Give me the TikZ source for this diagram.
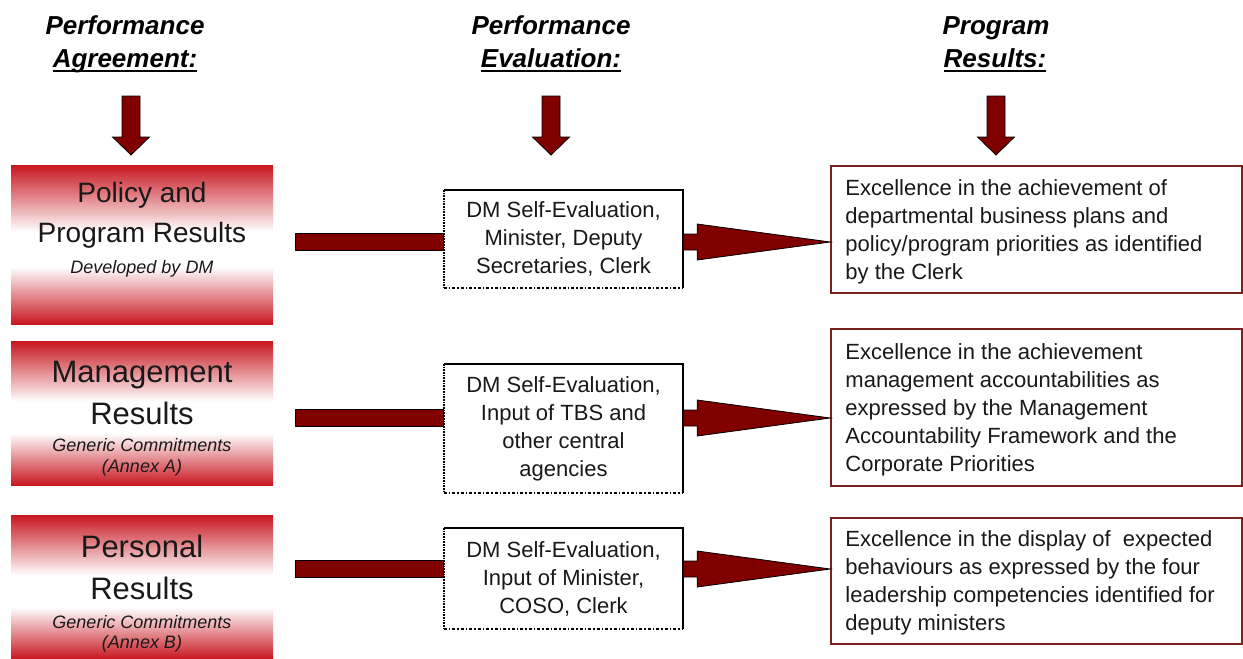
\documentclass[tikz,border=0pt]{standalone}
\usepackage{fontspec}
\setmainfont{Liberation Sans}
\usetikzlibrary{calc}
\definecolor{boxred}{RGB}{200,22,32}
\definecolor{arrred}{RGB}{128,0,0}
\definecolor{rborder}{RGB}{125,32,32}
\definecolor{txt}{RGB}{25,25,25}
\pgfdeclareverticalshading{redband}{100bp}{color(0bp)=(boxred); color(25bp)=(boxred); color(43bp)=(white); color(54bp)=(white); color(75bp)=(boxred); color(100bp)=(boxred)}
\tikzset{
  downarr/.pic={\draw[arrowfill] (-9,0) -- (9,0) -- (9,41) -- (18.5,41) -- (0,59) -- (-18.5,41) -- (-9,41) -- cycle;},
  arrowfill/.style={fill=arrred, draw=black, line width=0.8pt, line join=miter},
  lbox/.style={shading=redband, inner sep=0pt, minimum width=262pt},
  mbox/.style={fill=white, inner sep=0pt, minimum width=239pt, align=center, text=txt, font=\fontsize{22}{28}\selectfont},
  rbox/.style={draw=rborder, line width=1.5pt, fill=white, inner sep=0pt, minimum width=411pt},
  rtext/.style={anchor=north west, inner sep=0pt, align=left, text=txt, font=\fontsize{22}{28}\selectfont},
  bigA/.style={anchor=base, inner sep=0pt, text=txt, font=\fontsize{28}{28}\selectfont},
  bigB/.style={anchor=base, inner sep=0pt, text=txt, font=\fontsize{31}{31}\selectfont},
  smalltxt/.style={anchor=base, inner sep=0pt, text=txt, font=\fontsize{18}{18}\selectfont\itshape},
  headtxt/.style={anchor=base, inner sep=0pt, text=black, font=\fontsize{26}{26}\selectfont\bfseries\itshape},
  uline/.style={line width=1.8pt, black},
}
\begin{document}
\begin{tikzpicture}[x=1pt,y=-1pt]
\useasboundingbox[fill=white] (0,0) rectangle (1243,659);

% headers
\node[headtxt] (h1a) at (125,34) {Performance};
\node[headtxt] (h1b) at (125,67) {Agreement:};
\node[headtxt] (h2a) at (551,34) {Performance};
\node[headtxt] (h2b) at (551,67) {Evaluation:};
\node[headtxt] (h3a) at (996,34) {Program};
\node[headtxt] (h3b) at (995,67) {Results:};
\draw[uline] ([yshift=-4pt]h1b.base west) -- ([yshift=-4pt]h1b.base east);
\draw[uline] ([yshift=-4pt]h2b.base west) -- ([yshift=-4pt]h2b.base east);
\draw[uline] ([yshift=-4pt]h3b.base west) -- ([yshift=-4pt]h3b.base east);

% down arrows
\pic at (131,96) {downarr};
\pic at (551,96) {downarr};
\pic at (996,96) {downarr};

% left boxes
\node[lbox, minimum height=159pt] (l1) at (142,244.5) {};
\node[lbox, minimum height=144pt] (l2) at (142,413) {};
\node[lbox, minimum height=144pt] (l3) at (142,587) {};

\node[bigA] (l1a) at (142,202) {Policy and};
\node[bigA] (l1b) at (142,242) {Program Results};
\node[smalltxt] (l1c) at (142,273) {Developed by DM};

\node[bigB] (l2a) at (142,382) {Management};
\node[bigB] (l2b) at (142,424) {Results};
\node[smalltxt] (l2c) at (142,451) {Generic Commitments};
\node[smalltxt] (l2d) at (142,472) {(Annex A)};

\node[bigB] (l3a) at (142,557) {Personal};
\node[bigB] (l3b) at (142,599) {Results};
\node[smalltxt] (l3c) at (142,628) {Generic Commitments};
\node[smalltxt] (l3d) at (142,648) {(Annex B)};

% middle boxes
\node[mbox, minimum height=98pt] (m1) at (563.5,239) {DM Self-Evaluation,\\Minister, Deputy\\Secretaries, Clerk};
\node[mbox, minimum height=129pt] (m2) at (563.5,428.5) {DM Self-Evaluation,\\Input of TBS and\\other central\\agencies};
\node[mbox, minimum height=101pt] (m3) at (563.5,578.5) {DM Self-Evaluation,\\Input of Minister,\\COSO, Clerk};
\foreach \m in {m1,m2,m3}{
  \draw[line width=2.2pt] (\m.north west) -- (\m.north east) -- (\m.south east);
  \draw[line width=1.7pt, densely dotted] (\m.north west) -- (\m.south west);
  \draw[line width=1.5pt, dash dot] (\m.south west) -- (\m.south east);
}

% right boxes
\node[rbox, minimum height=127pt] (r1) at (1036.5,229.5) {};
\node[rbox, minimum height=157pt] (r2) at (1036.5,407.5) {};
\node[rbox, minimum height=126pt] (r3) at (1036.5,581) {};

\node[rtext] (r1t) at ($(r1.north west)+(15,14.2)$) {Excellence in the achievement of\\departmental business plans and\\policy/program priorities as identified\\by the Clerk};
\node[rtext] (r2t) at ($(r2.north west)+(15,15.5)$) {Excellence in the achievement\\management accountabilities as\\expressed by the Management\\Accountability Framework and the\\Corporate Priorities};
\node[rtext] (r3t) at ($(r3.north west)+(15,13.2)$) {Excellence in the display of \ expected\\behaviours as expressed by the four\\leadership competencies identified for\\deputy ministers};

% row levels
\coordinate (y1) at (0,242);
\coordinate (y2) at (0,418);
\coordinate (y3) at (0,569);

% connectors
\foreach \l/\m/\r/\y in {l1/m1/r1/y1, l2/m2/r2/y2, l3/m3/r3/y3}{
  \draw[arrowfill] ($(\l.east |- \y)+(22,-8.5)$) rectangle ($(\m.west |- \y)+(0,8.5)$);
  \draw[arrowfill] ($(\m.east |- \y)+(0,-8)$) -- ++(14,0) -- ++(0,-10) -- (\r.west |- \y)
     -- ($(\m.east |- \y)+(14,18)$) -- ++(0,-10) -- ++(-14,0) -- cycle;
}
\end{tikzpicture}
\end{document}
